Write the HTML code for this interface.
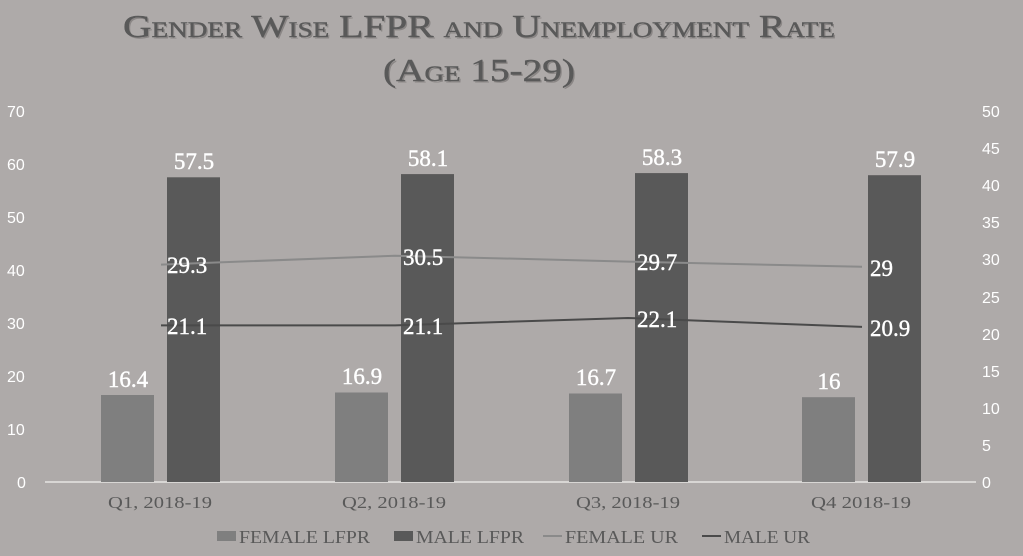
<!DOCTYPE html>
<html><head><meta charset="utf-8"><style>
html,body{margin:0;padding:0;background:#aeaaa9;}
svg{display:block;font-family:"Liberation Serif",serif;}
</style></head><body>
<svg width="1023" height="556" viewBox="0 0 1023 556" xmlns="http://www.w3.org/2000/svg">
<rect width="1023" height="556" fill="#aeaaa9"/>
<g font-size="32" fill="#595959" font-variant="small-caps" stroke="#595959" stroke-width="0.4" lengthAdjust="spacingAndGlyphs">
<text x="124.5" y="38.5" fill="#8a8685" stroke="none" textLength="712" lengthAdjust="spacingAndGlyphs">Gender Wise LFPR and Unemployment Rate</text>
<text x="123" y="37" textLength="712" lengthAdjust="spacingAndGlyphs">Gender Wise LFPR and Unemployment Rate</text>
<text x="384.5" y="82.5" fill="#8a8685" stroke="none" textLength="192" lengthAdjust="spacingAndGlyphs">(Age 15-29)</text>
<text x="383" y="81" textLength="192" lengthAdjust="spacingAndGlyphs">(Age 15-29)</text>
</g>
<g font-size="16" fill="#fff" font-family="Liberation Sans,sans-serif">
<g text-anchor="start">
<text x="7" y="117">70</text><text x="7" y="170">60</text><text x="7" y="223">50</text><text x="7" y="276">40</text><text x="7" y="329">30</text><text x="7" y="382">20</text><text x="7" y="435">10</text><text x="17" y="488">0</text>
</g>
<g text-anchor="start">
<text x="982" y="117">50</text><text x="982" y="154">45</text><text x="982" y="191">40</text><text x="982" y="228">35</text><text x="982" y="265">30</text><text x="982" y="303">25</text><text x="982" y="340">20</text><text x="982" y="377">15</text><text x="982" y="414">10</text><text x="982" y="451">5</text><text x="982" y="488">0</text>
</g>
</g>
<line x1="45" y1="482" x2="976" y2="482" stroke="#e6e4e3" stroke-width="1.5"/>
<g fill="#7f7f7f">
<rect x="101" y="395" width="53" height="87"/>
<rect x="335" y="392.5" width="53" height="89.5"/>
<rect x="569" y="393.5" width="53" height="88.5"/>
<rect x="802" y="397.2" width="53" height="84.8"/>
</g>
<g fill="#595959">
<rect x="167" y="177.3" width="53" height="304.7"/>
<rect x="401" y="174.1" width="53" height="307.9"/>
<rect x="635" y="173.1" width="53" height="308.9"/>
<rect x="868" y="175.2" width="53" height="306.8"/>
</g>
<g font-size="23" fill="#fff" text-anchor="middle" stroke="#fff" stroke-width="0.4">
<text x="128" y="387">16.4</text><text x="362" y="384">16.9</text><text x="596" y="385">16.7</text><text x="829" y="389">16</text>
<text x="194" y="169">57.5</text><text x="428" y="166">58.1</text><text x="662" y="165">58.3</text><text x="895" y="167">57.9</text>
</g>
<polyline points="161,264.6 395,255.7 628,261.6 862,266.8" fill="none" stroke="#8a8a8a" stroke-width="2"/>
<polyline points="161,325.4 395,325.4 628,318 862,326.9" fill="none" stroke="#4a4a4a" stroke-width="2"/>
<g font-size="23" fill="#fff" text-anchor="start" stroke="#fff" stroke-width="0.4">
<text x="167" y="273">29.3</text><text x="403" y="265">30.5</text><text x="637" y="270">29.7</text><text x="870" y="276">29</text>
<text x="167" y="334">21.1</text><text x="403" y="334">21.1</text><text x="637" y="327">22.1</text><text x="870" y="336">20.9</text>
</g>
<g font-size="17" fill="#595959">
<text x="108" y="508" textLength="104" lengthAdjust="spacingAndGlyphs">Q1, 2018-19</text><text x="342" y="508" textLength="104" lengthAdjust="spacingAndGlyphs">Q2, 2018-19</text><text x="576" y="508" textLength="104" lengthAdjust="spacingAndGlyphs">Q3, 2018-19</text><text x="811" y="508" textLength="100" lengthAdjust="spacingAndGlyphs">Q4 2018-19</text>
</g>
<g font-size="18" fill="#595959">
<rect x="217" y="531" width="19" height="10" fill="#7f7f7f"/><text x="239" y="543" textLength="131" lengthAdjust="spacingAndGlyphs">FEMALE LFPR</text>
<rect x="394" y="531" width="19" height="10" fill="#595959"/><text x="416" y="543" textLength="108" lengthAdjust="spacingAndGlyphs">MALE LFPR</text>
<line x1="543" y1="536" x2="562" y2="536" stroke="#8a8a8a" stroke-width="2"/><text x="565" y="543" textLength="113" lengthAdjust="spacingAndGlyphs">FEMALE UR</text>
<line x1="702" y1="536" x2="721" y2="536" stroke="#4a4a4a" stroke-width="2"/><text x="724" y="543" textLength="86" lengthAdjust="spacingAndGlyphs">MALE UR</text>
</g>
</svg>
</body></html>
